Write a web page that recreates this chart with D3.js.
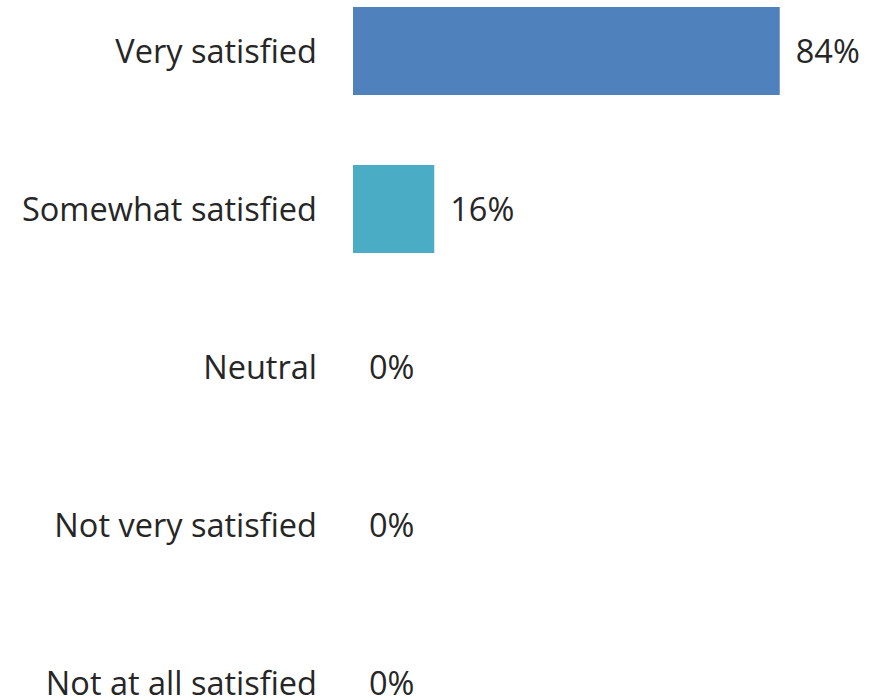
<!DOCTYPE html>
<html>
<head>
<meta charset="utf-8">
<script src="https://cdn.jsdelivr.net/npm/d3@7"></script>
<style>
  body { margin: 0; background: #fff; }
  text { font-family: "Open Sans", "Liberation Sans", sans-serif; fill: #262626; }
</style>
</head>
<body>
<script>
var categories = ['Very satisfied', 'Somewhat satisfied', 'Neutral', 'Not very satisfied', 'Not at all satisfied']
var values = [84, 16, 0, 0, 0]
var colors = ['#4f81bd', '#4bacc6', '#4bacc6', '#4bacc6', '#4bacc6']

var data = categories.map((c, i) => ({ name: c, value: values[i], color: colors[i] }))

var svg = d3.select('body').append('svg').attr('width', 875).attr('height', 700)

var xScale = d3.scaleLinear().domain([0, 100]).range([353, 861])
var yScale = d3.scaleBand().domain(categories).range([-28, 762])
    .paddingInner(0.443).paddingOuter(0.2215)

svg.selectAll('rect').data(data).enter().append('rect')
    .attr('x', xScale(0))
    .attr('y', d => yScale(d.name))
    .attr('width', d => xScale(d.value) - xScale(0))
    .attr('height', yScale.bandwidth())
    .attr('fill', d => d.color)

// category labels
svg.selectAll('text.cat').data(data).enter().append('text')
    .attr('class', 'cat')
    .attr('x', 317)
    .attr('y', d => yScale(d.name) + yScale.bandwidth() / 2)
    .attr('dy', '0.36em')
    .attr('text-anchor', 'end')
    .style('font-size', '32.5px')
    .text(d => d.name)

// value labels
svg.selectAll('text.val').data(data).enter().append('text')
    .attr('class', 'val')
    .attr('x', d => xScale(d.value) + 16)
    .attr('y', d => yScale(d.name) + yScale.bandwidth() / 2)
    .attr('dy', '0.36em')
    .style('font-size', '32.5px')
    .text(d => d.value + '%')
</script>
</body>
</html>
